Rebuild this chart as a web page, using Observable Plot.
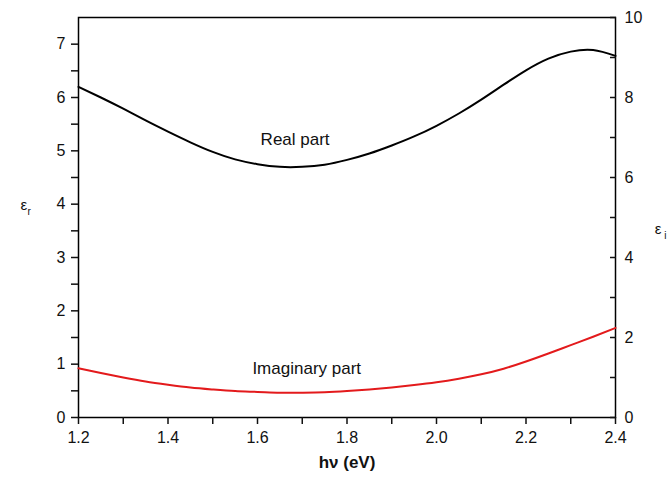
<!DOCTYPE html>
<html><head><meta charset="utf-8">
<script src="https://cdn.jsdelivr.net/npm/d3@7"></script>
<script src="https://cdn.jsdelivr.net/npm/@observablehq/plot@0.6"></script>
<style>
body{margin:0;background:#fff}
svg{font-family:"Liberation Sans",Arial,sans-serif}
</style>
</head><body><div id="chart"></div>
<script>
// photon energy (eV)
const energy = [1.20,1.25,1.30,1.35,1.40,1.45,1.50,1.55,1.60,1.65,1.70,1.75,1.80,1.85,1.90,1.95,2.00,2.05,2.10,2.15,2.20,2.25,2.30,2.35,2.40];
// real part epsilon_r (left axis)
const realPart = [6.20,6.00,5.79,5.57,5.36,5.16,4.98,4.84,4.75,4.70,4.70,4.74,4.83,4.95,5.10,5.27,5.47,5.70,5.96,6.24,6.51,6.73,6.86,6.89,6.78];
// imaginary part epsilon_i (right axis)
const imagPart = [1.23,1.11,1.00,0.90,0.82,0.75,0.70,0.66,0.64,0.62,0.62,0.63,0.66,0.70,0.75,0.81,0.88,0.97,1.08,1.22,1.40,1.60,1.81,2.02,2.24];

const xTickLabels = [1.2,1.4,1.6,1.8,2.0,2.2,2.4];
const xMinorTicks = [1.3,1.5,1.7,1.9,2.1,2.3];
const yLeftLabels = [0,1,2,3,4,5,6,7];
const yLeftMinor = [0.5,1.5,2.5,3.5,4.5,5.5,6.5];
const yRightLabels = [0,2,4,6,8,10];
const yRightMinor = [1,3,5,7,9];
const yLeftMax = 7.5, yRightMax = 10;

const annotations = [
  {text: "Real part", e: 1.684, v: 5.21},
  {text: "Imaginary part", e: 1.71, v: 0.92}
];

const k = yLeftMax / yRightMax;
const rows = energy.map((e, i) => ({e, re: realPart[i], im: imagPart[i] * k}));

const chart = Plot.plot({
  width: 668, height: 483,
  marginLeft: 78, marginRight: 53, marginTop: 17, marginBottom: 66,
  style: {fontFamily: "'Liberation Sans', Arial, sans-serif", fontSize: "16px", color: "#111", background: "#fff", overflow: "visible"},
  x: {domain: [1.2, 2.4]},
  y: {domain: [0, yLeftMax]},
  marks: [
    Plot.frame({stroke: "#000", strokeWidth: 1.5}),
    Plot.axisX({ticks: xMinorTicks, tickSize: 7, tickFormat: () => "", label: null, strokeWidth: 1.5}),
    Plot.axisX({ticks: xTickLabels, tickSize: 7, tickPadding: 7, tickFormat: d => d.toFixed(1), label: null, strokeWidth: 1.5}),
    Plot.axisY({anchor: "left", ticks: yLeftMinor, tickSize: 7, tickFormat: () => "", label: null, strokeWidth: 1.5}),
    Plot.axisY({anchor: "left", ticks: yLeftLabels, tickSize: 7, tickPadding: 6, label: null, strokeWidth: 1.5}),
    Plot.axisY({anchor: "right", ticks: yRightMinor.map(v => v * k), tickSize: 6, insetRight: 6, tickFormat: () => "", label: null, strokeWidth: 1.5}),
    Plot.axisY({anchor: "right", ticks: yRightLabels.map(v => v * k), tickSize: 6, insetRight: 6, tickPadding: 9, tickFormat: d => Math.round(d / k), label: null, strokeWidth: 1.5}),
    Plot.line(rows, {x: "e", y: "re", stroke: "#000", strokeWidth: 2, curve: "natural"}),
    Plot.line(rows, {x: "e", y: "im", stroke: "#e31a1c", strokeWidth: 2, curve: "natural"}),
    Plot.text(annotations, {x: "e", y: "v", text: "text", fontSize: 17, fill: "#111"}),
    Plot.text(["hν (eV)"], {frameAnchor: "bottom", dy: 50, fontWeight: "bold", fontSize: 17, fill: "#111"}),
    Plot.text(["ε"], {frameAnchor: "left", dx: -58, dy: -12, fontSize: 15, fill: "#111"}),
    Plot.text(["r"], {frameAnchor: "left", dx: -51, dy: -6, fontSize: 10, fill: "#111"}),
    Plot.text(["ε"], {frameAnchor: "right", dx: 46, dy: 12, fontSize: 15, fill: "#111"}),
    Plot.text(["i"], {frameAnchor: "right", dx: 51, dy: 18, fontSize: 10, fill: "#111"})
  ]
});
document.getElementById("chart").appendChild(chart);
</script>
</body></html>
